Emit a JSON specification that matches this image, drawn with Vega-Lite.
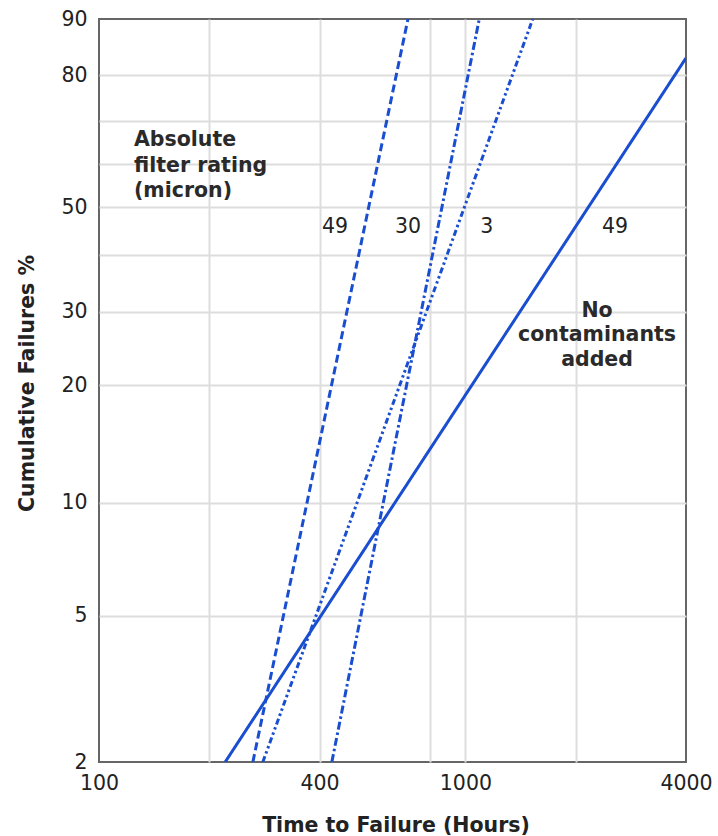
{
  "$schema": "https://vega.github.io/schema/vega-lite/v6.json",
  "width": 587,
  "height": 743,
  "autosize": {"type": "none"},
  "padding": {"left": 99, "top": 19, "right": 32, "bottom": 74},
  "background": "white",
  "config": {
    "view": {"stroke": "#666666", "strokeWidth": 2},
    "font": "DejaVu Sans",
    "axis": {
      "labelFont": "DejaVu Sans",
      "labelFontSize": 20.5,
      "labelColor": "#222222",
      "titleFont": "DejaVu Sans",
      "titleFontSize": 20.5,
      "titleFontWeight": "bold",
      "titleColor": "#222222",
      "ticks": false,
      "domain": false,
      "grid": true,
      "gridWidth": 2
    }
  },
  "data": {
    "values": [
      {"kind": "line", "series": "none", "t": 221, "F": 2},
      {"kind": "line", "series": "none", "t": 4000, "F": 83.4},
      {"kind": "line", "series": "49", "t": 263, "F": 2},
      {"kind": "line", "series": "49", "t": 697, "F": 90},
      {"kind": "line", "series": "30", "t": 432, "F": 2},
      {"kind": "line", "series": "30", "t": 1091, "F": 90},
      {"kind": "line", "series": "3", "t": 280, "F": 2},
      {"kind": "line", "series": "3", "t": 1527, "F": 90},
      {"kind": "num", "label": "49", "t": 441, "F": 44.5},
      {"kind": "num", "label": "30", "t": 697, "F": 44.5},
      {"kind": "num", "label": "3", "t": 1143, "F": 44.5},
      {"kind": "num", "label": "49", "t": 2561, "F": 44.5},
      {"kind": "noteL", "label": "Absolute\nfilter rating\n(micron)", "t": 124.6, "F": 64.1},
      {"kind": "noteC", "label": "No\ncontaminants\nadded", "t": 2287, "F": 29.15}
    ]
  },
  "transform": [{"calculate": "log(-log(1 - datum.F / 100))", "as": "w"}],
  "encoding": {
    "x": {
      "field": "t",
      "type": "quantitative",
      "scale": {"type": "log", "domain": [100, 4000], "nice": false},
      "axis": {
        "title": "Time to Failure (Hours)",
        "values": [100, 200, 400, 800, 1000, 2000, 4000],
        "labelExpr": "indexof([100, 400, 1000, 4000], datum.value) >= 0 ? '' + datum.value : ''",
        "labelFlush": false,
        "labelPadding": 11,
        "labelBaseline": "top",
        "gridColor": {"condition": {"test": "datum.value == 100 || datum.value == 4000", "value": "transparent"}, "value": "#dddddd"},
        "titleX": 296.5,
        "titleY": 69,
        "titleAlign": "center",
        "titleBaseline": "alphabetic"
      }
    },
    "y": {
      "field": "w",
      "type": "quantitative",
      "scale": {"domain": [-3.901939, 0.834032], "nice": false, "zero": false},
      "axis": {
        "title": "Cumulative Failures %",
        "values": [-3.901939, -2.970195, -2.250367, -1.499940, -1.030930, -0.671727, -0.366513, -0.087422, 0.185627, 0.475885, 0.834032],
        "labelExpr": "indexof([2, 5, 10, 20, 30, 50, 80, 90], round(100 * (1 - exp(-exp(datum.value))))) >= 0 ? '' + round(100 * (1 - exp(-exp(datum.value)))) : ''",
        "labelFlush": false,
        "labelPadding": 12,
        "gridColor": {"condition": {"test": "datum.value > 0.83 || datum.value < -3.9", "value": "transparent"}, "value": "#dddddd"},
        "titleX": -66,
        "titleY": 364,
        "titleAngle": -90,
        "titleAlign": "center",
        "titleBaseline": "alphabetic"
      }
    }
  },
  "layer": [
    {
      "transform": [{"filter": "datum.kind == 'line'"}],
      "mark": {"type": "line", "strokeWidth": 3, "color": "#1a4ed0", "clip": true},
      "encoding": {
        "detail": {"field": "series", "type": "nominal"},
        "strokeDash": {
          "field": "series",
          "type": "nominal",
          "scale": {"domain": ["none", "49", "30", "3"], "range": [[1, 0], [8, 4], [8, 3, 2.5, 3], [6, 3, 2.5, 3, 2.5, 3]]},
          "legend": null
        }
      }
    },
    {
      "transform": [{"filter": "datum.kind == 'num'"}],
      "mark": {"type": "text", "font": "DejaVu Sans", "fontSize": 20.5, "color": "#222222", "align": "center", "baseline": "alphabetic"},
      "encoding": {"text": {"field": "label", "type": "nominal"}}
    },
    {
      "transform": [{"filter": "datum.kind == 'noteL'"}],
      "mark": {"type": "text", "font": "DejaVu Sans", "fontSize": 20.5, "fontWeight": "bold", "color": "#2a2a2a", "align": "left", "baseline": "alphabetic", "lineBreak": "\n", "lineHeight": 25.5},
      "encoding": {"text": {"field": "label", "type": "nominal"}}
    },
    {
      "transform": [{"filter": "datum.kind == 'noteC'"}],
      "mark": {"type": "text", "font": "DejaVu Sans", "fontSize": 20.5, "fontWeight": "bold", "color": "#2a2a2a", "align": "center", "baseline": "alphabetic", "lineBreak": "\n", "lineHeight": 24.5},
      "encoding": {"text": {"field": "label", "type": "nominal"}}
    }
  ]
}
